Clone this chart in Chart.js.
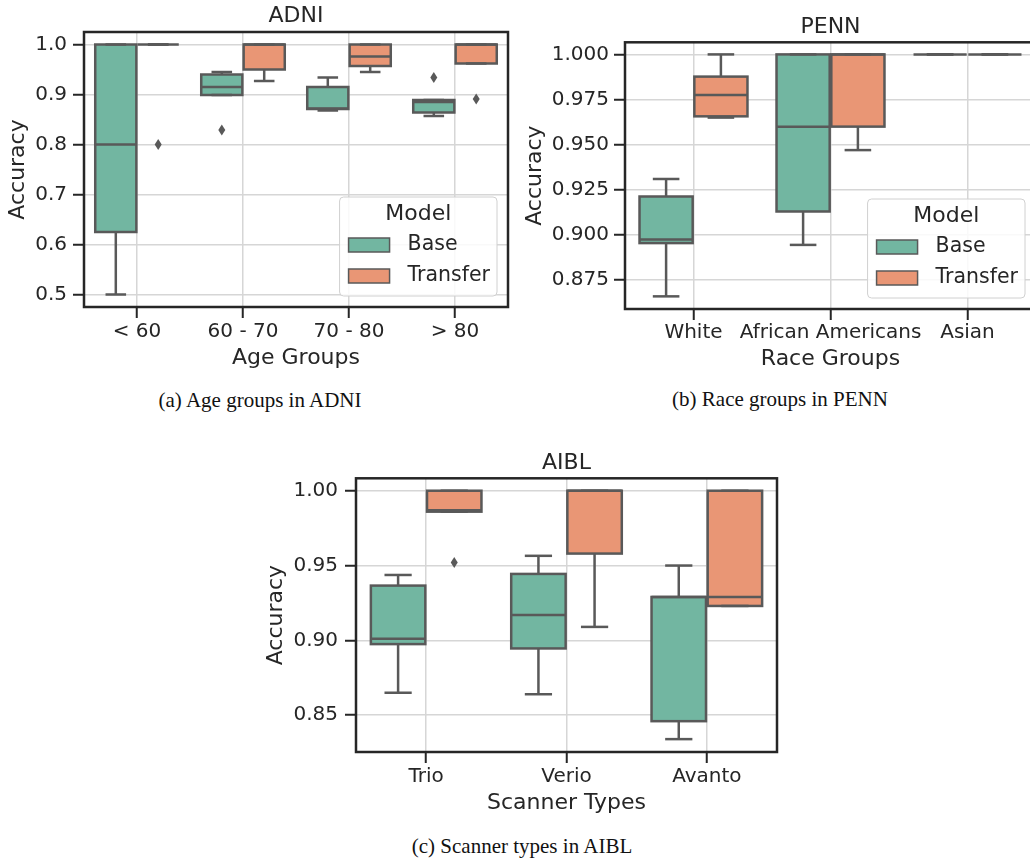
<!DOCTYPE html>
<html>
<head>
<meta charset="utf-8">
<script src="https://cdn.jsdelivr.net/npm/chart.js"></script>
<style>
  body { margin: 0; width: 1030px; height: 861px; overflow: hidden; background: #fff; position: relative; }
  canvas { position: absolute; }
  .cap { position: absolute; font-family: "Liberation Serif", serif; font-size: 21px; line-height: 24px;
         color: #111; transform: translateX(-50%); white-space: nowrap; }
</style>
</head>
<body>
<canvas id="adni" width="515" height="375" style="left:0px;top:0px"></canvas>
<canvas id="penn" width="530" height="375" style="left:515px;top:0px"></canvas>
<canvas id="aibl" width="530" height="380" style="left:260px;top:440px"></canvas>
<div class="cap" style="left:260px;top:388px">(a) Age groups in ADNI</div>
<div class="cap" style="left:780px;top:387px">(b) Race groups in PENN</div>
<div class="cap" style="left:522px;top:834px">(c) Scanner types in AIBL</div>

<script>
const GREEN = '#72b6a1', ORANGE = '#e99675', EDGE = '#595959', INK = '#262626', GRID = '#d6d6d6';
const FONT = '"DejaVu Sans", sans-serif';

// (a) ADNI - age groups
const adniGroups = ['< 60', '60 - 70', '70 - 80', '> 80'];
const adniTicks = [0.5, 0.6, 0.7, 0.8, 0.9, 1.0];
const adniBaseLow   = [0.500, 0.899, 0.868, 0.857];
const adniBaseQ1    = [0.625, 0.899, 0.871, 0.864];
const adniBaseMed   = [0.800, 0.915, 0.872, 0.885];
const adniBaseQ3    = [1.000, 0.940, 0.915, 0.889];
const adniBaseHigh  = [1.000, 0.945, 0.934, 0.889];
const adniBaseOut   = [[], [0.829], [], [0.934]];
const adniTransLow  = [1.000, 0.927, 0.945, 0.962];
const adniTransQ1   = [1.000, 0.950, 0.957, 0.962];
const adniTransMed  = [1.000, 1.000, 0.976, 1.000];
const adniTransQ3   = [1.000, 1.000, 1.000, 1.000];
const adniTransHigh = [1.000, 1.000, 1.000, 1.000];
const adniTransOut  = [[0.800], [], [], [0.891]];

// (b) PENN - race groups
const pennGroups = ['White', 'African Americans', 'Asian'];
const pennTicks = [0.875, 0.900, 0.925, 0.950, 0.975, 1.000];
const pennBaseLow   = [0.866, 0.8945, 1.0];
const pennBaseQ1    = [0.8955, 0.913, 1.0];
const pennBaseMed   = [0.8975, 0.960, 1.0];
const pennBaseQ3    = [0.9213, 1.000, 1.0];
const pennBaseHigh  = [0.931, 1.000, 1.0];
const pennBaseOut   = [[], [], []];
const pennTransLow  = [0.965, 0.947, 1.0];
const pennTransQ1   = [0.9657, 0.960, 1.0];
const pennTransMed  = [0.9775, 1.000, 1.0];
const pennTransQ3   = [0.9877, 1.000, 1.0];
const pennTransHigh = [1.000, 1.000, 1.0];
const pennTransOut  = [[], [], []];

// (c) AIBL - scanner types
const aiblGroups = ['Trio', 'Verio', 'Avanto'];
const aiblTicks = [0.85, 0.90, 0.95, 1.00];
const aiblBaseLow   = [0.865, 0.864, 0.834];
const aiblBaseQ1    = [0.8975, 0.8946, 0.846];
const aiblBaseMed   = [0.901, 0.917, 0.929];
const aiblBaseQ3    = [0.9366, 0.9444, 0.929];
const aiblBaseHigh  = [0.9437, 0.9565, 0.950];
const aiblBaseOut   = [[], [], []];
const aiblTransLow  = [0.986, 0.909, 0.923];
const aiblTransQ1   = [0.986, 0.958, 0.923];
const aiblTransMed  = [0.987, 1.000, 0.929];
const aiblTransQ3   = [1.000, 1.000, 1.000];
const aiblTransHigh = [1.000, 1.000, 1.000];
const aiblTransOut  = [[0.952], [], []];

function line(ctx, x1, y1, x2, y2) {
  ctx.beginPath(); ctx.moveTo(x1, y1); ctx.lineTo(x2, y2); ctx.stroke();
}

// box outlines, whiskers, medians and outliers on top of the floating bars
const boxPlugin = {
  id: 'boxParts',
  afterDatasetsDraw(chart) {
    const ctx = chart.ctx, y = chart.scales.y;
    chart.data.datasets.forEach((ds, d) => {
      const s = ds.stats;
      chart.getDatasetMeta(d).data.forEach((bar, i) => {
        const x = bar.x, w = bar.width;
        const p = v => y.getPixelForValue(v);
        ctx.save();
        ctx.strokeStyle = EDGE; ctx.lineWidth = 2.5;
        if (s.q3[i] > s.q1[i]) {
          ctx.strokeRect(x - w / 2, p(s.q3[i]), w, p(s.q1[i]) - p(s.q3[i]));
        }
        line(ctx, x, p(s.q1[i]), x, p(s.low[i]));
        line(ctx, x, p(s.q3[i]), x, p(s.high[i]));
        line(ctx, x - w / 4, p(s.low[i]), x + w / 4, p(s.low[i]));
        line(ctx, x - w / 4, p(s.high[i]), x + w / 4, p(s.high[i]));
        line(ctx, x - w / 2, p(s.med[i]), x + w / 2, p(s.med[i]));
        ctx.fillStyle = EDGE;
        s.out[i].forEach(v => {
          const py = p(v);
          ctx.beginPath();
          ctx.moveTo(x, py - 5.5); ctx.lineTo(x + 3.5, py);
          ctx.lineTo(x, py + 5.5); ctx.lineTo(x - 3.5, py);
          ctx.closePath(); ctx.fill();
        });
        ctx.restore();
      });
    });
  },
  afterDraw(chart, args, opts) {
    const {ctx, chartArea: a} = chart;
    ctx.save();
    ctx.strokeStyle = INK; ctx.lineWidth = 2.5;
    ctx.strokeRect(a.left, a.top, a.right - a.left, a.bottom - a.top);

    if (opts.legend) {
      // legend in lower right corner
      ctx.font = '20.5px ' + FONT;
      const names = chart.data.datasets.map(ds => ds.label);
      const tw = Math.max(...names.map(n => ctx.measureText(n).width));
      const w = 9 + 41 + 18 + tw + 7, h = 99;
      const x0 = a.right - 11 - w, y0 = a.bottom - 11 - h;
      ctx.beginPath();
      ctx.roundRect(x0, y0, w, h, 4);
      ctx.fillStyle = 'rgba(255,255,255,0.85)'; ctx.fill();
      ctx.strokeStyle = '#d0d0d0'; ctx.lineWidth = 1; ctx.stroke();
      ctx.fillStyle = INK; ctx.textBaseline = 'middle'; ctx.textAlign = 'center';
      ctx.font = '22px ' + FONT;
      ctx.fillText('Model', x0 + w / 2, y0 + 17);
      ctx.font = '20.5px ' + FONT;
      ctx.textAlign = 'left';
      chart.data.datasets.forEach((ds, d) => {
        const ry = y0 + 41 + d * 31;
        ctx.fillStyle = ds.backgroundColor;
        ctx.fillRect(x0 + 9, ry, 41, 14);
        ctx.strokeStyle = EDGE; ctx.lineWidth = 1.5;
        ctx.strokeRect(x0 + 9, ry, 41, 14);
        ctx.fillStyle = INK;
        ctx.fillText(ds.label, x0 + 68, ry + 7);
      });
    }
    ctx.restore();
  }
};

function boxSet(label, color, low, q1, med, q3, high, out) {
  return {
    label: label,
    data: q1.map((v, i) => [v, q3[i]]),
    backgroundColor: color,
    borderWidth: 0,
    barPercentage: 0.97,
    categoryPercentage: 0.8,
    stats: { low, q1, med, q3, high, out }
  };
}

function makeChart(id, c) {
  new Chart(document.getElementById(id), {
    type: 'bar',
    data: { labels: c.labels, datasets: c.datasets },
    options: {
      responsive: false,
      animation: false,
      devicePixelRatio: 1,
      layout: { padding: { left: 0, right: c.padRight, top: 0, bottom: 0 } },
      plugins: {
        legend: { display: false },
        tooltip: { enabled: false },
        boxParts: { legend: c.legend },
        title: {
          display: true, text: c.title, color: INK, fullSize: false,
          font: { family: FONT, size: 22, weight: 'normal' },
          padding: c.titlePad
        }
      },
      scales: {
        x: {
          grid: { offset: false, color: GRID, lineWidth: 1.5, tickColor: INK, tickWidth: 2, tickLength: 11 },
          border: { display: false },
          ticks: { color: INK, font: { family: FONT, size: 20 }, padding: c.xTickPad,
                   autoSkip: false, maxRotation: 0, minRotation: 0 },
          title: { display: true, text: c.xTitle, color: INK, font: { family: FONT, size: 22 },
                   padding: { top: 0, bottom: c.xTitlePad } },
          afterFit: s => { s.height = c.xH; }
        },
        y: {
          min: c.min, max: c.max,
          grid: { color: GRID, lineWidth: 1.5, tickColor: INK, tickWidth: 2, tickLength: 11 },
          border: { display: false },
          ticks: { color: INK, font: { family: FONT, size: 20 }, padding: c.yTickPad,
                   callback: v => Number(v).toFixed(c.dec) },
          afterBuildTicks: s => { s.ticks = c.ticks.map(v => ({ value: v })); },
          title: { display: true, text: 'Accuracy', color: INK, font: { family: FONT, size: 22 },
                   padding: { top: c.yTitlePad, bottom: 0 } },
          afterFit: s => { s.width = c.yW; }
        }
      }
    },
    plugins: [boxPlugin]
  });
}

makeChart('adni', {
  labels: adniGroups, title: 'ADNI', xTitle: 'Age Groups', legend: true,
  min: 0.475, max: 1.025, ticks: adniTicks, dec: 1,
  datasets: [
    boxSet('Base', GREEN, adniBaseLow, adniBaseQ1, adniBaseMed, adniBaseQ3, adniBaseHigh, adniBaseOut),
    boxSet('Transfer', ORANGE, adniTransLow, adniTransQ1, adniTransMed, adniTransQ3, adniTransHigh, adniTransOut)
  ],
  padRight: 7, titlePad: { top: 3.5, bottom: 2.1 }, xH: 68, yW: 84,
  xTickPad: 2, xTitlePad: 4, yTickPad: 6, yTitlePad: 5
});

makeChart('penn', {
  labels: pennGroups, title: 'PENN', xTitle: 'Race Groups', legend: true,
  min: 0.859, max: 1.0067, ticks: pennTicks, dec: 3,
  datasets: [
    boxSet('Base', GREEN, pennBaseLow, pennBaseQ1, pennBaseMed, pennBaseQ3, pennBaseHigh, pennBaseOut),
    boxSet('Transfer', ORANGE, pennTransLow, pennTransQ1, pennTransMed, pennTransQ3, pennTransHigh, pennTransOut)
  ],
  padRight: 9, titlePad: { top: 14.3, bottom: 1.6 }, xH: 66, yW: 110,
  xTickPad: 1, xTitlePad: 2.5, yTickPad: 5, yTitlePad: 7
});

makeChart('aibl', {
  labels: aiblGroups, title: 'AIBL', xTitle: 'Scanner Types', legend: false,
  min: 0.8254, max: 1.0083, ticks: aiblTicks, dec: 2,
  datasets: [
    boxSet('Base', GREEN, aiblBaseLow, aiblBaseQ1, aiblBaseMed, aiblBaseQ3, aiblBaseHigh, aiblBaseOut),
    boxSet('Transfer', ORANGE, aiblTransLow, aiblTransQ1, aiblTransMed, aiblTransQ3, aiblTransHigh, aiblTransOut)
  ],
  padRight: 13, titlePad: { top: 10.5, bottom: 1.4 }, xH: 68, yW: 96,
  xTickPad: 2, xTitlePad: 3.5, yTickPad: 7, yTitlePad: 3.5
});
</script>
</body>
</html>
